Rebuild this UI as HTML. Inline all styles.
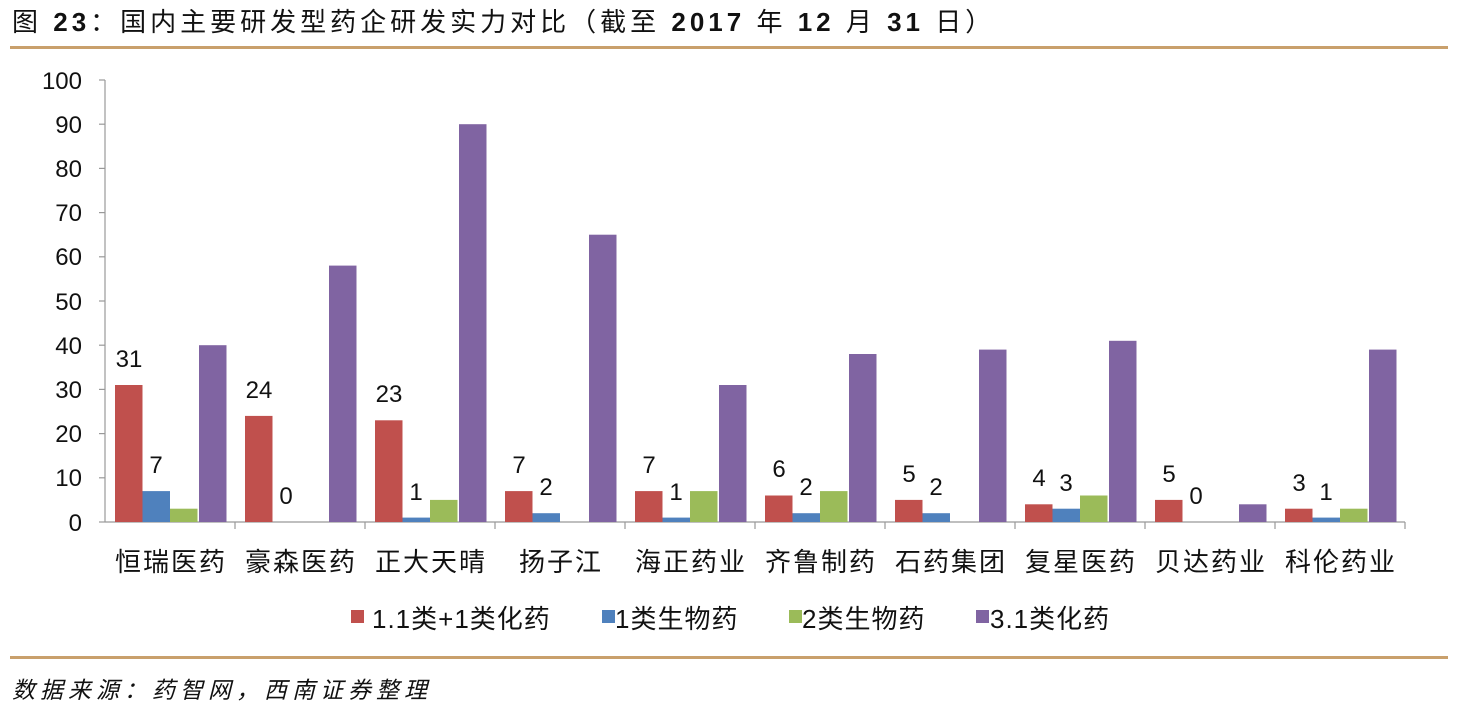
<!DOCTYPE html>
<html><head><meta charset="utf-8"><style>
body{margin:0;background:#fff;width:1460px;height:712px;overflow:hidden}
svg text{font-family:"Liberation Sans","Noto Sans CJK SC",sans-serif;fill:#111}
</style></head><body>
<svg width="1460" height="712" xmlns="http://www.w3.org/2000/svg">
<text x="12" y="31" font-size="26" letter-spacing="4" fill="#222">图 <tspan font-weight="bold">23</tspan>：国内主要研发型药企研发实力对比（截至 <tspan font-weight="bold">2017</tspan> 年 <tspan font-weight="bold">12</tspan> 月 <tspan font-weight="bold">31</tspan> 日）</text>
<rect x="10" y="46" width="1438" height="3" fill="#c9a06c"/>
<rect x="10" y="656" width="1438" height="3" fill="#c9a06c"/>
<text x="12" y="698" font-size="23" font-style="italic" fill="#222" letter-spacing="5">数据来源：药智网，西南证券整理</text>
<g stroke="#999" stroke-width="1.2">
<line x1="105" y1="80" x2="105" y2="522"/>
<line x1="105" y1="522" x2="1405" y2="522"/>
<line x1="99" y1="80" x2="105" y2="80"/><line x1="99" y1="124.2" x2="105" y2="124.2"/><line x1="99" y1="168.4" x2="105" y2="168.4"/><line x1="99" y1="212.6" x2="105" y2="212.6"/><line x1="99" y1="256.8" x2="105" y2="256.8"/><line x1="99" y1="301" x2="105" y2="301"/><line x1="99" y1="345.2" x2="105" y2="345.2"/><line x1="99" y1="389.4" x2="105" y2="389.4"/><line x1="99" y1="433.6" x2="105" y2="433.6"/><line x1="99" y1="477.8" x2="105" y2="477.8"/><line x1="99" y1="522" x2="105" y2="522"/>
<line x1="235" y1="522" x2="235" y2="529"/><line x1="365" y1="522" x2="365" y2="529"/><line x1="495" y1="522" x2="495" y2="529"/><line x1="625" y1="522" x2="625" y2="529"/><line x1="755" y1="522" x2="755" y2="529"/><line x1="885" y1="522" x2="885" y2="529"/><line x1="1015" y1="522" x2="1015" y2="529"/><line x1="1145" y1="522" x2="1145" y2="529"/><line x1="1275" y1="522" x2="1275" y2="529"/><line x1="1405" y1="522" x2="1405" y2="529"/>
</g>
<g font-size="24" text-anchor="end">
<text x="82" y="89">100</text><text x="82" y="133">90</text><text x="82" y="177">80</text><text x="82" y="221">70</text><text x="82" y="265">60</text><text x="82" y="310">50</text><text x="82" y="354">40</text><text x="82" y="398">30</text><text x="82" y="442">20</text><text x="82" y="486">10</text><text x="82" y="531">0</text>
</g>
<g fill="#c0504d">
<rect x="115" y="385" width="27.5" height="137"/><rect x="245" y="415.9" width="27.5" height="106.1"/><rect x="375" y="420.3" width="27.5" height="101.7"/><rect x="505" y="491.1" width="27.5" height="30.9"/><rect x="635" y="491.1" width="27.5" height="30.9"/><rect x="765" y="495.5" width="27.5" height="26.5"/><rect x="895" y="499.9" width="27.5" height="22.1"/><rect x="1025" y="504.3" width="27.5" height="17.7"/><rect x="1155" y="499.9" width="27.5" height="22.1"/><rect x="1285" y="508.7" width="27.5" height="13.3"/>
</g>
<g fill="#4f81bd">
<rect x="142.5" y="491.1" width="27.5" height="30.9"/><rect x="402.5" y="517.6" width="27.5" height="4.4"/><rect x="532.5" y="513.2" width="27.5" height="8.8"/><rect x="662.5" y="517.6" width="27.5" height="4.4"/><rect x="792.5" y="513.2" width="27.5" height="8.8"/><rect x="922.5" y="513.2" width="27.5" height="8.8"/><rect x="1052.5" y="508.7" width="27.5" height="13.3"/><rect x="1312.5" y="517.6" width="27.5" height="4.4"/>
</g>
<g fill="#9bbb59">
<rect x="170" y="508.7" width="27.5" height="13.3"/><rect x="430" y="499.9" width="27.5" height="22.1"/><rect x="690" y="491.1" width="27.5" height="30.9"/><rect x="820" y="491.1" width="27.5" height="30.9"/><rect x="1080" y="495.5" width="27.5" height="26.5"/><rect x="1340" y="508.7" width="27.5" height="13.3"/>
</g>
<g fill="#8064a2">
<rect x="199" y="345.2" width="27.5" height="176.8"/><rect x="329" y="265.6" width="27.5" height="256.4"/><rect x="459" y="124.2" width="27.5" height="397.8"/><rect x="589" y="234.7" width="27.5" height="287.3"/><rect x="719" y="385" width="27.5" height="137"/><rect x="849" y="354" width="27.5" height="168"/><rect x="979" y="349.6" width="27.5" height="172.4"/><rect x="1109" y="340.8" width="27.5" height="181.2"/><rect x="1239" y="504.3" width="27.5" height="17.7"/><rect x="1369" y="349.6" width="27.5" height="172.4"/>
</g>
<g font-size="24" text-anchor="middle">
<text x="129" y="367">31</text><text x="259" y="398">24</text><text x="389" y="402">23</text><text x="519" y="473">7</text><text x="649" y="473">7</text><text x="779" y="477">6</text><text x="909" y="482">5</text><text x="1039" y="486">4</text><text x="1169" y="482">5</text><text x="1299" y="491">3</text>
<text x="156" y="473">7</text><text x="286" y="504">0</text><text x="416" y="500">1</text><text x="546" y="495">2</text><text x="676" y="500">1</text><text x="806" y="495">2</text><text x="936" y="495">2</text><text x="1066" y="491">3</text><text x="1196" y="504">0</text><text x="1326" y="500">1</text>
</g>
<g font-size="26" text-anchor="middle" letter-spacing="2">
<text x="171" y="571">恒瑞医药</text><text x="301" y="571">豪森医药</text><text x="431" y="571">正大天晴</text><text x="561" y="571">扬子江</text><text x="691" y="571">海正药业</text><text x="821" y="571">齐鲁制药</text><text x="951" y="571">石药集团</text><text x="1081" y="571">复星医药</text><text x="1211" y="571">贝达药业</text><text x="1341" y="571">科伦药业</text>
</g>
<g font-size="26" letter-spacing="1">
<rect x="351" y="610" width="13" height="13" fill="#c0504d"/><text x="372" y="628">1.1类+1类化药</text>
<rect x="602" y="610" width="13" height="13" fill="#4f81bd"/><text x="615" y="628">1类生物药</text>
<rect x="789" y="610" width="13" height="13" fill="#9bbb59"/><text x="802" y="628">2类生物药</text>
<rect x="976" y="610" width="13" height="13" fill="#8064a2"/><text x="990" y="628">3.1类化药</text>
</g>
</svg>
</body></html>
